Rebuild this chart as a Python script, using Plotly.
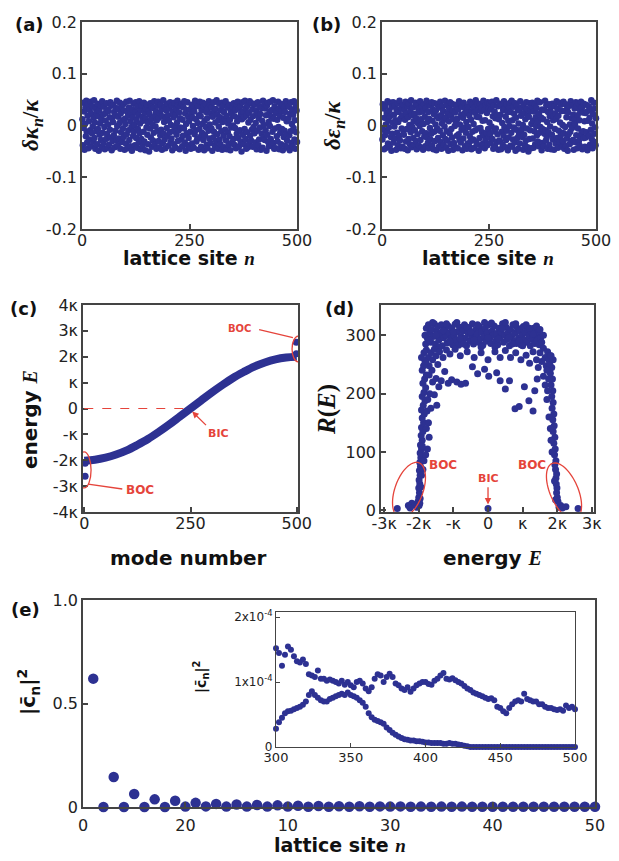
import numpy as np
import plotly.graph_objects as go

W, H = 619, 861
NAVY = "#2D3192"
RED = "#E5443B"
AXC = "#444444"
SANS = "DejaVu Sans, Liberation Sans, Arial, sans-serif"
SERIF = "Liberation Serif, Times New Roman, serif"

# ---------------- data ----------------
# (a) coupling disorder, units of 1e-3 kappa
site_n = list(range(1, 501))
dkappa_milli = [
    12,-38,44,-5,27,-47,3,35,-21,48,-12,-33,19,41,-44,8,-27,30,-9,46,-40,22,-15,37,-2,
    -31,15,49,-24,6,-45,33,-11,25,-36,42,-7,18,-49,29,-18,4,39,-28,11,-41,47,-14,21,-34,
    36,-3,-46,24,9,-26,43,-16,31,-43,2,28,-37,16,-8,45,-23,38,-48,14,-30,7,40,-19,26,
    -42,20,-10,34,-29,48,-1,-39,17,32,-25,5,44,-45,23,-13,37,-32,10,-6,41,-22,29,-47,13,
    3,-35,46,-17,27,-44,19,-9,35,-28,48,-40,8,24,-3,-49,31,16,-20,42,-11,1,-38,26,45,
    -24,11,-43,36,-7,21,-33,47,-15,4,-46,30,-26,39,17,-39,9,-12,44,-31,25,-48,14,33,-4,
    40,-18,6,-36,28,-50,22,-6,43,-23,12,37,-41,2,-29,34,-14,47,-37,19,-2,27,-45,10,38,
    -10,46,-30,15,-42,24,-19,41,-8,31,-47,18,-34,49,-16,7,-27,36,-44,13,29,-5,42,-21,20,
    -39,9,33,-13,45,-32,1,-25,38,-48,26,-11,16,-36,44,-2,21,-43,32,-18,6,48,-30,39,-9,
    25,-46,14,-4,37,-27,42,-40,11,-20,35,-6,47,-33,23,-49,3,30,-15,45,-38,17,-24,8,-42,
    31,-12,-45,22,40,-35,15,-1,34,-43,27,-17,48,-9,12,-31,43,-26,5,37,-47,20,-7,46,-22,
    18,-41,29,-14,3,44,-28,36,-48,9,-19,41,-3,26,-37,14,-44,33,-10,47,-25,2,39,-34,23,
    -6,35,-49,17,-23,45,-12,28,-39,6,32,-30,49,-17,21,-45,10,-2,42,-27,16,-36,30,-11,44,
    -47,7,38,-20,26,-42,13,-8,47,-29,19,-46,35,-13,4,-38,40,-21,11,-48,28,-4,22,-33,36,
    0,-26,43,-37,18,-5,30,-44,41,-16,8,46,-24,33,-40,15,-9,37,-31,23,-50,12,45,-18,27,
    -36,16,-7,48,-26,34,-45,20,-13,39,-42,6,25,-35,47,-20,11,-29,43,-8,31,-41,18,-3,40,
    -15,42,-33,5,29,-46,24,-10,45,-38,14,-27,36,-4,22,-47,34,-16,9,-43,48,-23,1,41,-28,
    33,-9,20,-49,38,-18,44,-32,7,-40,27,-1,46,-26,17,-37,30,-12,49,-34,13,-45,37,-6,24,
    -44,27,-21,11,-31,46,-3,32,-46,19,-14,42,-36,28,-7,39,-48,15,-22,35,-10,26,-39,47,-17,
    8,-29,41,-43,14,36,-19,-48,23,-11,45,-34,3,31,-41,21,-5,47,-27,10,-45,38,-13,29,-32,
]
# (b) on-site disorder, units of 1e-3 kappa
deps_milli = [
    -27,41,-8,33,-46,15,-19,38,2,-43,24,-12,47,-35,9,-4,29,-40,18,44,-22,-49,36,-16,6,
    45,-33,21,-2,39,-25,10,-47,31,-14,43,-38,7,26,-20,48,-29,13,-44,34,-6,19,-41,40,-10,
    -18,30,-45,11,46,-31,23,-7,37,-48,16,-26,42,1,-36,28,-13,49,-42,20,-3,35,-24,8,-37,
    22,-9,44,-30,14,-46,39,-17,5,32,-39,25,-1,47,-28,12,-43,36,-11,27,-47,3,41,-21,17,
    -40,34,-15,48,-23,7,-34,26,-44,13,41,-5,-27,38,-16,45,-38,9,31,-46,22,-12,43,-30,2,
    29,-48,18,-6,40,-24,14,-41,35,-10,46,-32,20,-45,4,37,-19,28,-37,11,-2,48,-26,16,-43,
    -11,39,-29,24,-49,8,33,-15,45,-36,19,-7,42,-23,29,-47,12,-34,40,-1,25,-42,6,38,-20,
    13,-44,31,-17,47,-28,2,43,-33,21,-8,36,-48,15,-25,44,-4,23,-40,32,-14,7,-45,27,-35,
    37,-3,-39,19,-21,46,-30,11,-46,28,-12,40,-27,3,34,-43,25,-9,49,-31,17,-36,41,-6,30,
    -49,16,-24,42,-5,27,-41,35,-13,9,-35,48,-19,30,-44,10,-28,39,-15,24,-38,45,-7,33,-22,
    6,43,-16,-34,31,-2,46,-26,18,-45,39,-11,27,-40,14,-6,49,-32,20,-17,37,-47,12,-29,42,
    -31,21,-46,38,-12,5,-37,30,-20,47,-3,33,-42,17,-28,41,-10,26,-48,9,-23,35,-1,44,-39,
    26,-14,48,-41,10,-27,36,-4,22,-33,43,-49,15,-8,38,-24,31,-45,4,-18,29,-35,47,-13,19,
    -8,35,-22,1,-47,40,-18,24,-38,12,-29,45,-6,32,-42,20,-50,17,-26,43,-9,28,-44,3,36,
    44,-25,9,-43,27,-11,41,-36,16,-1,34,-19,48,-31,8,-40,23,-14,45,-3,-34,15,-48,31,-7,
    -34,12,-40,30,-16,48,-9,-29,39,-22,7,-45,26,-13,41,-37,18,-2,35,-46,24,-18,42,-27,10,
    18,-47,37,-7,23,-35,13,47,-24,32,-43,19,-10,44,-32,6,-21,40,-14,28,-41,1,-30,46,-15,
    -45,28,-3,41,-39,16,-25,34,-49,25,-17,38,-36,2,-12,47,-33,14,-5,39,-28,21,-47,11,33,
    3,-32,45,-19,36,-44,20,-6,43,-30,10,-39,29,-21,46,-15,35,-46,25,-11,42,-24,8,-41,24,
    -23,40,-13,27,-48,9,-42,37,-20,15,-37,31,-8,49,-26,4,-44,22,-31,44,-16,33,-4,-38,14,
]

# (c) eigen-energies (units of kappa) vs mode number
mode_number = [0, 25, 50, 75, 100, 125, 150, 175, 200, 225, 250,
               275, 300, 325, 350, 375, 400, 425, 450, 475, 500]
mode_energy = [-2.02, -1.98, -1.90, -1.78, -1.62, -1.41, -1.18, -0.91, -0.62, -0.31, 0.0,
               0.31, 0.62, 0.91, 1.18, 1.41, 1.62, 1.78, 1.90, 1.97, 2.0]
boc_mode = [2, 2, 499, 499]
boc_energy = [-2.62, -2.12, 2.12, 2.56]

# (d) participation R(E) vs energy E (units of kappa)
spectrum_points = [
    # upper plateau
    (-1.82,300),(-1.78,312),(-1.75,295),(-1.72,318),(-1.68,305),(-1.65,288),(-1.62,310),(-1.58,298),
    (-1.55,320),(-1.52,285),(-1.48,306),(-1.45,315),(-1.42,292),(-1.38,302),(-1.35,318),(-1.32,282),
    (-1.28,296),(-1.25,310),(-1.22,300),(-1.18,287),(-1.15,316),(-1.12,304),(-1.08,294),(-1.05,312),
    (-1.02,284),(-0.98,300),(-0.95,319),(-0.92,292),(-0.88,306),(-0.85,283),(-0.82,314),(-0.78,298),
    (-0.75,288),(-0.72,308),(-0.68,318),(-0.65,295),(-0.62,282),(-0.58,304),(-0.55,312),(-0.52,290),
    (-0.48,300),(-0.45,320),(-0.42,285),(-0.38,296),(-0.35,310),(-0.32,302),(-0.28,288),(-0.25,315),
    (-0.22,294),(-0.18,306),(-0.15,283),(-0.12,298),(-0.08,312),(-0.05,290),(-0.02,305),(0.02,318),
    (0.05,295),(0.08,286),(0.12,308),(0.15,300),(0.18,316),(0.22,290),(0.25,303),(0.28,284),
    (0.32,312),(0.35,297),(0.38,306),(0.42,320),(0.45,288),(0.48,300),(0.52,314),(0.55,293),
    (0.58,305),(0.62,282),(0.65,310),(0.68,298),(0.72,318),(0.75,290),(0.78,304),(0.82,286),
    (0.85,312),(0.88,296),(0.92,308),(0.95,284),(0.98,300),(1.02,315),(1.05,292),(1.08,305),
    (1.12,288),(1.15,310),(1.18,298),(1.22,282),(1.25,306),(1.28,293),(1.32,312),(1.35,286),
    (1.38,300),(1.42,291),(1.45,305),(1.48,284),(1.52,296),(1.55,288),(1.60,300),
    (-1.80,285),(-1.70,292),(-1.60,322),(-1.50,300),(-1.40,280),(-1.30,308),(-1.20,320),(-1.10,290),
    (-1.00,306),(-0.90,322),(-0.80,294),(-0.70,285),(-0.60,314),(-0.50,306),(-0.40,292),(-0.30,318),
    (-0.20,280),(-0.10,322),(0.00,296),(0.10,321),(0.20,280),(0.30,294),(0.40,312),(0.50,322),
    (0.60,296),(0.70,285),(0.80,320),(0.90,290),(1.00,282),(1.10,318),(1.20,312),(1.30,302),
    (1.40,316),(1.50,310),
    # second layer
    (-1.85,270),(-1.80,255),(-1.78,275),(-1.72,262),(-1.70,248),(-1.65,270),(-1.60,258),(-1.55,276),
    (-1.50,265),(-1.45,250),(-1.40,272),(-1.30,262),(-1.20,275),(-1.10,268),(-0.95,276),(-0.80,265),
    (-0.60,272),(-0.40,262),(-0.20,270),(0.00,258),(0.20,272),(0.35,262),(0.50,274),(0.65,262),
    (0.80,270),(0.95,258),(1.10,266),(1.20,252),(1.30,272),(1.40,258),(1.45,245),(1.50,270),
    (1.55,255),(1.60,278),(1.65,262),(1.68,248),(1.72,272),(1.75,258),(1.78,242),(1.80,265),
    # scattered arc
    (-1.70,232),(-1.60,220),(-1.50,226),(-1.42,212),(-1.35,222),(-1.25,238),(-1.15,218),(-1.05,224),
    (-0.90,220),(-0.78,216),(-0.65,218),(-0.45,246),(-0.30,234),(-0.10,242),(0.02,230),(0.25,236),
    (0.35,222),(0.50,208),(0.62,222),(0.78,174),(0.90,178),(1.05,212),(1.18,188),(1.30,170),
    (1.35,205),(1.42,225),(-1.55,198),(-1.48,180),
    # left edge
    (-2.05,5),(-2.10,8),(-2.15,10),(-2.20,12),(-2.02,15),(-2.00,22),(-1.98,30),(-2.00,38),
    (-1.97,45),(-1.99,52),(-1.96,60),(-1.98,68),(-1.95,75),(-1.97,82),(-1.94,90),(-1.96,98),
    (-1.92,105),(-1.95,112),(-1.90,120),(-1.93,128),(-1.88,135),(-1.92,142),(-1.86,150),(-1.90,158),
    (-1.84,165),(-1.92,172),(-1.87,180),(-1.82,188),(-1.90,195),(-1.85,202),(-1.80,210),(-1.88,218),
    (-1.83,225),(-1.78,232),(-1.90,240),(-1.86,248),(-1.82,255),(-1.92,262),(-1.76,170),(-1.72,150),
    (-1.70,125),(-1.75,105),(-1.80,95),(-1.85,85),(-1.88,70),(-1.90,110),(-1.78,140),(-1.74,190),
    (-1.68,200),(-1.65,175),(-1.62,240),(-1.96,20),(-1.94,40),(-1.92,60),(-2.30,8),(-2.25,4),
    (-1.99,8),(-1.97,12),
    # right edge
    (2.05,5),(2.10,8),(2.15,4),(2.25,6),(2.02,15),(2.00,22),(1.98,30),(1.99,38),
    (1.97,45),(1.96,55),(1.98,62),(1.95,70),(1.93,78),(1.96,85),(1.92,95),(1.94,105),
    (1.90,115),(1.93,125),(1.88,135),(1.91,145),(1.87,155),(1.90,165),(1.85,175),(1.88,185),
    (1.84,195),(1.87,205),(1.82,215),(1.86,225),(1.80,235),(1.84,245),(1.78,250),(1.88,258),
    (1.82,265),(1.75,225),(1.72,205),(1.70,190),(1.76,160),(1.80,140),(1.82,120),(1.85,100),
    (1.70,240),(1.65,215),(1.60,230),(1.92,50),(1.95,18),
    # isolated states
    (-2.62,3),(0.00,3),(2.60,3),
]

# (e) intensity of the BIC mode on the first 50 sites
e_site = list(range(1, 51))
e_intensity = [0.62, 0.0, 0.145, 0.0, 0.063, 0.0, 0.037, 0.0, 0.03, 0.002,
               0.02, 0.003, 0.015, 0.002, 0.012, 0.002, 0.01, 0.002, 0.008, 0.002,
               0.006, 0.001, 0.005, 0.001, 0.004, 0.001, 0.004, 0.001, 0.003, 0.002,
               0.003, 0.001, 0.002, 0.001, 0.002, 0.001, 0.002, 0.001, 0.001, 0.001,
               0.001, 0.001, 0.001, 0.001, 0.001, 0.001, 0.001, 0.001, 0.001, 0.001]
e_ticks = [0, 10, 20, 30, 40, 50]
e_ticktext = ["0", "20", "10", "30", "40", "50"]

# inset: sites 300..500 (every second site), intensity in units of 1e-4
inset_site = list(range(300, 501, 2))
inset_upper = [
    1.52,1.45,1.25,1.42,1.55,1.50,1.40,1.32,1.30,1.35,
    1.28,1.12,1.10,1.08,1.18,1.05,1.05,1.02,1.04,1.02,
    1.00,0.98,1.02,0.96,1.00,0.95,0.92,1.00,1.02,0.98,
    0.90,0.86,0.92,1.05,1.12,1.10,1.00,1.08,1.13,1.08,
    0.98,0.95,0.90,0.88,0.92,0.85,0.90,0.95,0.98,1.00,
    1.00,0.97,0.96,1.02,1.05,1.10,1.14,1.05,1.04,1.06,
    1.03,1.00,0.98,0.94,0.90,0.88,0.84,0.82,0.80,0.78,
    0.76,0.74,0.75,0.72,0.62,0.60,0.55,0.52,0.60,0.66,
    0.70,0.72,0.70,0.82,0.74,0.72,0.70,0.70,0.66,0.66,
    0.62,0.60,0.60,0.58,0.57,0.58,0.56,0.64,0.60,0.62,
    0.58,
]
inset_lower = [
    0.28,0.38,0.45,0.52,0.55,0.56,0.58,0.60,0.62,0.65,
    0.70,0.80,0.86,0.80,0.76,0.72,0.70,0.70,0.74,0.76,
    0.78,0.80,0.82,0.80,0.84,0.80,0.78,0.76,0.72,0.68,
    0.62,0.52,0.46,0.42,0.40,0.38,0.36,0.30,0.26,0.22,
    0.19,0.16,0.14,0.12,0.11,0.10,0.10,0.09,0.09,0.08,
    0.07,0.07,0.06,0.06,0.06,0.06,0.05,0.05,0.06,0.05,
    0.05,0.04,0.03,0.02,0.01,0,0,0,0,0,
    0,0,0,0,0,0,0,0,0,0,
    0,0,0,0,0,0,0,0,0,0,
    0,0,0,0,0,0,0,0,0,0,
    0,
]

# ---------------- helpers ----------------
def dom_x(a, b):
    return [a / W, b / W]

def dom_y(top, bottom):
    return [1 - bottom / H, 1 - top / H]

def axis(**kw):
    d = dict(showline=True, linecolor=AXC, linewidth=1.5, mirror=True,
             ticks="inside", ticklen=5, tickwidth=1.5, tickcolor=AXC,
             showgrid=False, zeroline=False, automargin=False,
             tickfont=dict(family=SANS, size=16, color="#222222"))
    d.update(kw)
    return d

def mk(size):
    return dict(color=NAVY, size=size, line=dict(width=0))

fig = go.Figure()

# (a)
fig.add_trace(go.Scatter(x=site_n, y=[v * 1e-3 for v in dkappa_milli], mode="markers",
                         marker=mk(6.5), xaxis="x", yaxis="y", cliponaxis=False))
# (b)
fig.add_trace(go.Scatter(x=site_n, y=[v * 1e-3 for v in deps_milli], mode="markers",
                         marker=mk(6.5), xaxis="x2", yaxis="y2", cliponaxis=False))
# (c)
fig.add_trace(go.Scatter(x=mode_number, y=mode_energy, mode="lines",
                         line=dict(color=NAVY, width=8, shape="spline"),
                         xaxis="x3", yaxis="y3", cliponaxis=False))
fig.add_trace(go.Scatter(x=boc_mode, y=boc_energy, mode="markers", marker=mk(7),
                         xaxis="x3", yaxis="y3", cliponaxis=False))
# (d)
fig.add_trace(go.Scatter(x=[p[0] for p in spectrum_points], y=[p[1] for p in spectrum_points],
                         mode="markers", marker=mk(7), xaxis="x4", yaxis="y4", cliponaxis=False))
# (e)
fig.add_trace(go.Scatter(x=e_site, y=e_intensity, mode="markers", marker=mk(10.5),
                         xaxis="x5", yaxis="y5", cliponaxis=False))
# inset
fig.add_trace(go.Scatter(x=inset_site, y=inset_upper, mode="markers", marker=mk(6),
                         xaxis="x6", yaxis="y6", cliponaxis=False))
fig.add_trace(go.Scatter(x=inset_site, y=inset_lower, mode="markers", marker=mk(6),
                         xaxis="x6", yaxis="y6", cliponaxis=False))

kap = "\u03ba"
small = dict(family=SANS, size=12, color="#222222")
fig.update_layout(
    width=W, height=H, margin=dict(l=0, r=0, t=0, b=0, pad=0), autosize=False,
    paper_bgcolor="white", plot_bgcolor="white", showlegend=False,
    xaxis=axis(domain=dom_x(82, 297), range=[0, 500], tickvals=[0, 250, 500], anchor="y",
               ticklabelstandoff=-4),
    yaxis=axis(domain=dom_y(22, 229), range=[-0.2, 0.2], tickvals=[-0.2, -0.1, 0, 0.1, 0.2],
               ticktext=["-0.2", "-0.1", "0", "0.1", "0.2"], anchor="x"),
    xaxis2=axis(domain=dom_x(382, 596), range=[0, 500], tickvals=[0, 250, 500], anchor="y2",
                ticklabelstandoff=-4),
    yaxis2=axis(domain=dom_y(22, 229), range=[-0.2, 0.2], tickvals=[-0.2, -0.1, 0, 0.1, 0.2],
                ticktext=["-0.2", "-0.1", "0", "0.1", "0.2"], anchor="x2"),
    xaxis3=axis(domain=dom_x(83, 298), range=[-3, 503], tickvals=[0, 250, 500], anchor="y3",
                ticklabelstandoff=-4),
    yaxis3=axis(domain=dom_y(305, 512), range=[-4, 4], tickvals=list(range(-4, 5)),
                ticktext=["-4" + kap, "-3" + kap, "-2" + kap, "-" + kap, "0",
                          kap, "2" + kap, "3" + kap, "4" + kap], anchor="x3"),
    xaxis4=axis(domain=dom_x(381, 594), range=[-3.09, 3.06], tickvals=list(range(-3, 4)),
                ticktext=["-3" + kap, "-2" + kap, "-" + kap, "0", kap, "2" + kap, "3" + kap],
                anchor="y4", ticklabelstandoff=-4),
    yaxis4=axis(domain=dom_y(305, 512), range=[-3, 352], tickvals=[0, 100, 200, 300], anchor="x4"),
    xaxis5=axis(domain=dom_x(83, 595), range=[0, 50], tickvals=e_ticks, ticktext=e_ticktext,
                anchor="y5", ticklabelstandoff=3),
    yaxis5=axis(domain=dom_y(600, 807), range=[0, 1], tickvals=[0, 0.5, 1],
                ticktext=["0", "0.5", "1.0"], anchor="x5"),
    xaxis6=axis(domain=dom_x(276, 575), range=[300, 500], tickvals=[300, 350, 400, 450, 500],
                anchor="y6", ticklen=4, tickwidth=1, linewidth=1.2, ticklabelstandoff=-2,
                tickfont=dict(family=SANS, size=13, color="#222222")),
    yaxis6=axis(domain=dom_y(612, 747), range=[0, 2.08], tickvals=[0, 1, 2],
                ticktext=["0", "1x10<sup>-4</sup>", "2x10<sup>-4</sup>"],
                anchor="x6", ticklen=4, tickwidth=1, linewidth=1.2, tickfont=small),
)

ann = []

def lab(text, x, y, size=20, family=SANS, angle=0, color="#111111"):
    ann.append(dict(text=text, x=x / W, y=1 - y / H, xref="paper", yref="paper",
                    showarrow=False, xanchor="center", yanchor="middle", textangle=angle,
                    font=dict(family=family, size=size, color=color)))

ser_n = "<span style=\"font-family:'Liberation Serif'\"><i>n</i></span>"
ser_E = "<span style=\"font-family:'Liberation Serif'\"><i>E</i></span>"

# panel labels
lab("<b>(a)</b>", 29, 25, 18)
lab("<b>(b)</b>", 326, 25, 18)
lab("<b>(c)</b>", 23, 309, 18)
lab("<b>(d)</b>", 339, 309, 18)
lab("<b>(e)</b>", 25, 609, 18)

# axis titles
lab("<b>lattice site " + ser_n + "</b>", 189, 258, 19)
lab("<b>lattice site " + ser_n + "</b>", 488, 258, 19)
lab("<b><i>\u03b4\u03ba</i><sub><i>n</i></sub>/<i>\u03ba</i></b>", 32, 125, 23, SERIF, -90)
lab("<b><i>\u03b4\u03b5</i><sub><i>n</i></sub>/<i>\u03ba</i></b>", 334, 125, 23, SERIF, -90)
lab("<b>mode number</b>", 188, 558, 20)
lab("<b>energy " + ser_E + "</b>", 30, 420, 20, SANS, -90)
lab("<b>energy " + ser_E + "</b>", 493, 558, 20)
lab("<b><i>R</i>(<i>E</i>)</b>", 327, 410, 25, SERIF, -90)
lab("<b>lattice site " + ser_n + "</b>", 340, 845, 19)
lab("<b>|c\u0304<sub>n</sub>|<sup>2</sup></b>", 28, 692, 20, SANS, -90)
lab("<b>|c\u0304<sub>n</sub>|<sup>2</sup></b>", 201, 677, 14, SANS, -90)

# red annotation texts
def red_text(text, x, y, xref, yref, size=11):
    ann.append(dict(text="<b>" + text + "</b>", x=x, y=y, xref=xref, yref=yref,
                    showarrow=False, font=dict(family=SANS, size=size, color=RED)))

# red connector/arrow (arrow drawn from an empty-text annotation)
def red_arrow(x, y, ax, ay, xref, yref, head):
    ann.append(dict(text="", x=x, y=y, xref=xref, yref=yref,
                    ax=ax, ay=ay, axref=xref, ayref=yref, showarrow=True,
                    arrowhead=head, arrowsize=1, arrowwidth=1.3, arrowcolor=RED,
                    standoff=0, startstandoff=0))

red_text("BOC", 366, 3.1, "x3", "y3", 10)
red_arrow(491, 2.74, 408, 3.06, "x3", "y3", 0)
red_text("BOC", 131, -3.15, "x3", "y3", 12)
red_arrow(9, -2.92, 93, -3.12, "x3", "y3", 0)
red_text("BIC", 315, -0.95, "x3", "y3", 11)
red_arrow(254, -0.12, 290, -0.70, "x3", "y3", 2)
red_text("BIC", 0, 55, "x4", "y4", 11)
red_arrow(0, 10, 0, 42, "x4", "y4", 2)
red_text("BOC", -1.3, 77, "x4", "y4", 12)
red_text("BOC", 1.27, 77, "x4", "y4", 12)

fig.update_layout(annotations=ann)

# shapes
shapes = []
shapes.append(dict(type="line", xref="x3", yref="y3", x0=0, x1=250, y0=0, y1=0,
                   line=dict(color=RED, width=1, dash="dash")))
shapes.append(dict(type="circle", xref="x3", yref="y3", x0=489, x1=519, y0=1.80, y1=2.80,
                   line=dict(color=RED, width=1.3)))
shapes.append(dict(type="circle", xref="x3", yref="y3", x0=-17, x1=16, y0=-3.07, y1=-1.68,
                   line=dict(color=RED, width=1.3)))

# tilted ellipses in (d): geometry in pixel units converted to data units
sx = 213 / (3.06 + 3.09)
sy = 207 / (352 + 3)
def tilted(cx_px, cy_px, a, b, ux, uy):
    n = np.hypot(ux, uy)
    ux, uy = ux / n, uy / n
    vx, vy = -uy, ux
    t = np.linspace(0, 2 * np.pi, 73)
    px = cx_px + a * np.cos(t) * ux + b * np.sin(t) * vx
    py = cy_px + a * np.cos(t) * uy + b * np.sin(t) * vy
    E = -3.09 + (px - 381) / sx
    R = -3 + (512 - py) / sy
    pts = " L ".join(f"{e:.4f},{r:.3f}" for e, r in zip(E, R))
    return "M " + pts + " Z"

shapes.append(dict(type="path", xref="x4", yref="y4", path=tilted(409, 490, 29, 14, 20, -55),
                   line=dict(color=RED, width=1.3)))
shapes.append(dict(type="path", xref="x4", yref="y4", path=tilted(564, 491, 30, 14, 24, 55),
                   line=dict(color=RED, width=1.3)))
fig.update_layout(shapes=shapes)

fig.write_html("out.html", config={"displayModeBar": False},
               post_script="document.body.style.margin='0px';")
